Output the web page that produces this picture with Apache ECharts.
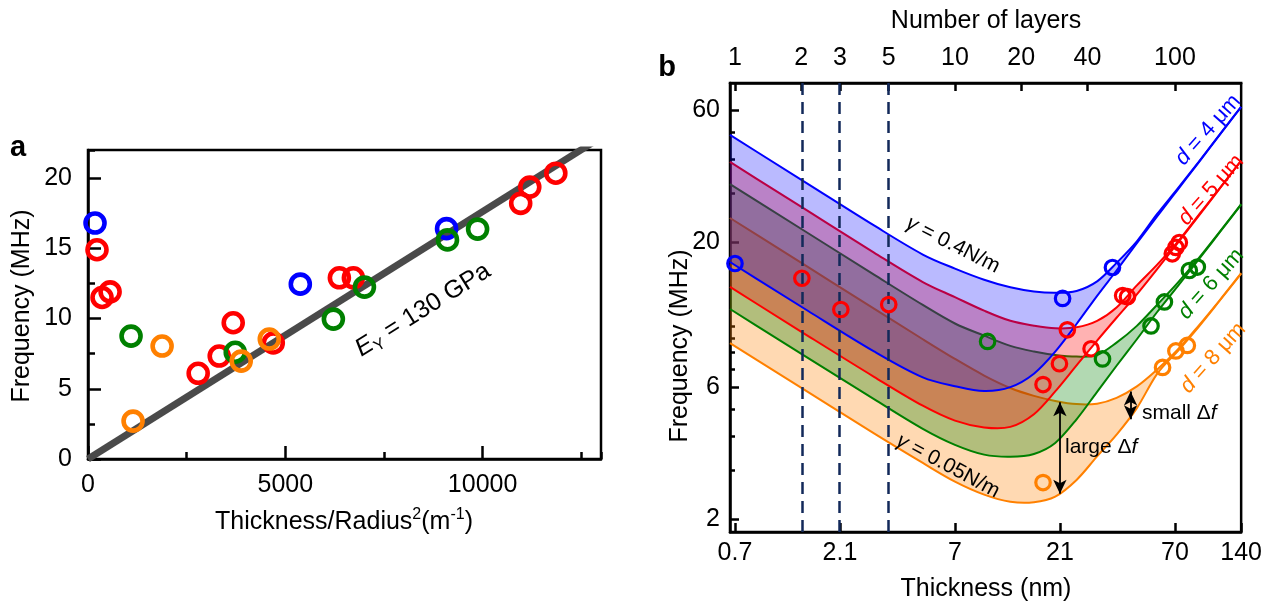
<!DOCTYPE html>
<html><head><meta charset="utf-8">
<script src="https://cdn.jsdelivr.net/npm/echarts@6/dist/echarts.min.js"></script>
<style>html,body{margin:0;padding:0;background:#fff;}#c{width:1265px;height:604px;}</style>
</head><body><div id="c"></div>
<script>
const FONT = '"Liberation Sans", Arial, Helvetica, sans-serif';

// ---------- Panel a data ----------
const aXMax = 13000, aXStep = 5000, aXMinorStep = 2500;
const aYMax = 22, aYStep = 5, aYMinorStep = 2.5;
const aBlue = [[178, 16.8], [5380, 12.45], [9086, 16.4]];
const aRed = [[228, 14.9], [356, 11.5], [560, 11.9], [2792, 6.1], [3325, 7.33], [3680, 9.7], [4695, 8.26], [6370, 12.9], [6725, 12.9], [10965, 18.2], [11195, 19.36], [11855, 20.35]];
const aGreen = [[1091, 8.75], [3731, 7.6], [6218, 9.96], [7005, 12.24], [9110, 15.6], [9873, 16.37]];
const aOrange = [[1142, 2.7], [1878, 8.04], [3883, 6.97], [4594, 8.54]];
const aFit = [[0, 0], [13000, 22.9]];

// ---------- Panel b data ----------
const layerThickness = 0.7; // nm per layer
const bXTicks = [0.7, 2.1, 7, 21, 70, 140];
const bLayerTicks = [1, 2, 3, 5, 10, 20, 40, 100];
const bYTicks = [2, 6, 20, 60];
const bYMinor = [3, 4, 5, 7, 8, 9, 10, 30, 40, 50];
const dashedLayers = [2, 3, 5];
const thickness = [0.6645, 1.5, 3, 5, 7, 9.5, 12.5, 16, 20, 25, 31, 38, 47, 58, 72, 90, 112, 140];
const f4High = [48.9, 32.56, 23.04, 18.1, 16.1, 14.68, 13.78, 13.31, 13.16, 13.37, 14.48, 16.88, 20.2, 25.3, 31.3, 39.2, 49.1, 61.8];
const f4Low  = [17.01, 11.34, 8.09, 6.52, 6.06, 5.82, 6.01, 6.72, 8.07, 10.16, 12.84, 15.85, 19.9, 24.8, 31.0, 39.0, 49.0, 61.7];
const f5High = [39.06, 26.0, 18.39, 14.4, 12.7, 11.35, 10.43, 10.02, 9.8, 9.88, 10.42, 11.65, 14.0, 16.6, 20.1, 25.2, 31.45, 39.5];
const f5Low  = [13.82, 9.21, 6.55, 5.15, 4.55, 4.3, 4.32, 4.8, 5.8, 7.2, 8.85, 10.7, 13.0, 16.0, 19.9, 25.0, 31.35, 39.5];
const f6High = [32.5, 21.64, 15.31, 11.9, 10.2, 9.22, 8.47, 8.08, 7.85, 7.75, 7.85, 8.7, 10.0, 11.9, 14.3, 17.6, 21.9, 27.5];
const f6Low  = [11.51, 7.66, 5.44, 4.25, 3.72, 3.43, 3.37, 3.45, 3.78, 4.6, 5.78, 7.18, 8.95, 11.2, 13.9, 17.4, 21.8, 27.4];
const f8High = [24.52, 16.32, 11.54, 8.95, 7.6, 6.62, 5.97, 5.59, 5.36, 5.22, 5.24, 5.5, 6.05, 6.95, 8.2, 10.05, 12.4, 15.5];
const f8Low  = [8.67, 5.78, 4.09, 3.2, 2.74, 2.46, 2.32, 2.31, 2.42, 2.78, 3.38, 4.05, 5.05, 6.7, 8.1, 9.95, 12.35, 15.45];
const bBlue = [[0.7, 16.8], [21.6, 12.56], [36.4, 16.25]];
const bRed = [[1.41, 14.86], [2.12, 11.46], [3.5, 11.94], [17.6, 6.14], [20.9, 7.3], [22.7, 9.68], [29.1, 8.27], [40.5, 12.87], [42.6, 12.75], [68.1, 18.2], [70.7, 19.2], [73.3, 20.0]];
const bGreen = [[9.85, 8.79], [32.8, 7.6], [54.5, 10.0], [62.7, 12.2], [81.4, 15.85], [88.5, 16.3]];
const bOrange = [[17.6, 2.72], [61.5, 7.08], [70.7, 8.12], [79.7, 8.5]];
const largeDf = [21, 5.3, 2.48];
const smallDf = [44, 5.8, 4.6];

const L = Math.log10;
const BLUE = '#0000ff', RED = '#ff0000', GREEN = '#008000', ORANGE = '#ff8000';

const chart = echarts.init(document.getElementById('c'), null, {renderer: 'canvas'});

const lbl = {fontSize: 25, color: '#000', fontFamily: FONT};
const tickLine = {color: '#000', width: 2.5};
function baseAxis(extra) {
  return Object.assign({
    type: 'value',
    splitLine: {show: false},
    axisLine: {show: true, onZero: false, lineStyle: {color: '#000', width: 2.5}},
  }, extra);
}
function hiddenAxis(extra, tick) {
  return Object.assign({
    type: 'value',
    splitLine: {show: false},
    axisLine: {show: false, onZero: false},
    axisLabel: {show: false},
    axisTick: Object.assign({show: true, inside: true, lineStyle: tickLine}, tick)
  }, extra);
}

const bXMin = L(0.6645), bXMax = L(140);
const bYMin = L(1.803), bYMax = L(75.3);

const xAxis = [
  // panel a: minor ticks first (drawn under the major ones)
  hiddenAxis({gridIndex: 0, min: 0, max: aXMax, interval: aXMinorStep, position: 'bottom'}, {length: 7}),
  baseAxis({gridIndex: 0, min: 0, max: aXMax, interval: aXStep, position: 'bottom',
    axisTick: {show: true, inside: true, length: 13, lineStyle: tickLine},
    axisLabel: Object.assign({margin: 14, showMaxLabel: false, formatter: v => String(v)}, lbl)}),
  // panel b bottom (thickness, log10 space)
  baseAxis({gridIndex: 1, min: bXMin, max: bXMax, position: 'bottom',
    axisTick: {show: true, inside: true, length: 9, customValues: bXTicks.map(L), lineStyle: tickLine},
    axisLabel: Object.assign({customValues: bXTicks.map(L), margin: 9,
      formatter: v => String(+Math.pow(10, v).toPrecision(3))}, lbl)}),
  // panel b top (number of layers)
  baseAxis({gridIndex: 1, min: bXMin, max: bXMax, position: 'top',
    axisTick: {show: true, inside: true, length: 8, customValues: bLayerTicks.map(n => L(n * layerThickness)), lineStyle: tickLine},
    axisLabel: Object.assign({customValues: bLayerTicks.map(n => L(n * layerThickness)), margin: 12,
      formatter: v => String(Math.round(Math.pow(10, v) / layerThickness))}, lbl)})
];
const yAxis = [
  hiddenAxis({gridIndex: 0, min: 0, max: aYMax, interval: aYMinorStep, position: 'left'}, {length: 7}),
  baseAxis({gridIndex: 0, min: 0, max: aYMax, interval: aYStep, position: 'left',
    axisTick: {show: true, inside: true, length: 13, lineStyle: tickLine},
    axisLabel: Object.assign({margin: 16, showMaxLabel: false}, lbl)}),
  baseAxis({gridIndex: 1, min: bYMin, max: bYMax, position: 'left',
    axisTick: {show: true, inside: true, length: 9, customValues: bYTicks.map(L), lineStyle: tickLine},
    axisLabel: Object.assign({customValues: bYTicks.map(L), margin: 10,
      formatter: v => String(Math.round(Math.pow(10, v)))}, lbl)}),
  hiddenAxis({gridIndex: 1, min: bYMin, max: bYMax, position: 'left'}, {length: 5, customValues: bYMinor.map(L)})
];

function hollow(name, data, color, xi, yi, size, bw, conv) {
  return {
    type: 'scatter', name, xAxisIndex: xi, yAxisIndex: yi,
    data: conv ? data.map(p => [L(p[0]), L(p[1])]) : data,
    symbol: 'circle', symbolSize: size, z: 5,
    itemStyle: {color: 'rgba(0,0,0,0)', borderColor: color, borderWidth: bw, opacity: 1}
  };
}

// smooth (cubic Hermite in x) path through pixel points - rendering only
function curveSeg(pts) {
  const n = pts.length, m = [];
  for (let i = 0; i < n; i++) {
    const a = pts[Math.max(0, i - 1)], b = pts[Math.min(n - 1, i + 1)];
    m.push((b[1] - a[1]) / (b[0] - a[0]));
  }
  let d = '';
  for (let i = 0; i < n - 1; i++) {
    const p = pts[i], q = pts[i + 1], dx = (q[0] - p[0]) / 3;
    d += ' C' + (p[0] + dx) + ' ' + (p[1] + m[i] * dx) + ' ' + (q[0] - dx) + ' ' + (q[1] - m[i + 1] * dx) + ' ' + q[0] + ' ' + q[1];
  }
  return d;
}

function band(key, hi, lo, color, fill) {
  return {
    type: 'custom', name: key, xAxisIndex: 2, yAxisIndex: 2, z: 2,
    data: [[L(thickness[0]), L(lo[0])]],
    encode: {x: 0, y: 1},
    renderItem: (params, api) => {
      const loP = thickness.map((t, i) => api.coord([L(t), L(lo[i])]));
      const hiP = thickness.map((t, i) => api.coord([L(t), L(hi[i])]));
      const hiR = hiP.slice().reverse();
      const loPath = 'M' + loP[0][0] + ' ' + loP[0][1] + curveSeg(loP);
      const hiPath = 'M' + hiP[0][0] + ' ' + hiP[0][1] + curveSeg(hiP);
      const fillPath = loPath + ' L' + hiR[0][0] + ' ' + hiR[0][1] + curveSeg(hiR) + ' Z';
      return {type: 'group', children: [
        {type: 'path', shape: {pathData: fillPath}, style: {fill: fill, stroke: null}},
        {type: 'path', shape: {pathData: loPath}, style: {fill: null, stroke: color, lineWidth: 2}},
        {type: 'path', shape: {pathData: hiPath}, style: {fill: null, stroke: color, lineWidth: 2}}
      ]};
    }
  };
}

const series = [
  // panel a
  {type: 'line', xAxisIndex: 1, yAxisIndex: 1, data: aFit, showSymbol: false, symbol: 'none',
   lineStyle: {color: '#4a4a4a', width: 7}, z: 3},
  hollow('aBlue', aBlue, BLUE, 1, 1, 19, 4.6, false),
  hollow('aRed', aRed, RED, 1, 1, 19, 4.6, false),
  hollow('aGreen', aGreen, GREEN, 1, 1, 19, 4.6, false),
  hollow('aOrange', aOrange, ORANGE, 1, 1, 19, 4.6, false),
  // panel b bands (drawn from d = 8 up to d = 4)
  band('d8', f8High, f8Low, ORANGE, 'rgba(255,128,0,0.3)'),
  band('d6', f6High, f6Low, GREEN, 'rgba(0,128,0,0.3)'),
  band('d5', f5High, f5Low, RED, 'rgba(255,0,0,0.3)'),
  band('d4', f4High, f4Low, BLUE, 'rgba(0,0,255,0.27)'),
  // dashed layer lines
  {type: 'line', xAxisIndex: 2, yAxisIndex: 2, data: [], z: 4,
   markLine: {silent: true, symbol: 'none', label: {show: false},
     lineStyle: {color: '#12295a', width: 2.5, type: [12, 7]},
     data: dashedLayers.map(n => ({xAxis: L(n * layerThickness)}))}},
  // delta f arrows
  {type: 'line', xAxisIndex: 2, yAxisIndex: 2, data: [], z: 4,
   markLine: {silent: true, symbol: ['arrow', 'arrow'], symbolSize: [10, 14], label: {show: false},
     lineStyle: {color: '#000', width: 1.8, type: 'solid'},
     data: [largeDf, smallDf].map(a => [{coord: [L(a[0]), L(a[1])]}, {coord: [L(a[0]), L(a[2])]}])}},
  hollow('bBlue', bBlue, BLUE, 2, 2, 14.5, 3.2, true),
  hollow('bRed', bRed, RED, 2, 2, 14.5, 3.2, true),
  hollow('bGreen', bGreen, GREEN, 2, 2, 14.5, 3.2, true),
  hollow('bOrange', bOrange, ORANGE, 2, 2, 14.5, 3.2, true)
];

function txt(x, y, text, opts) {
  return Object.assign({
    type: 'text', x, y, z: 100,
    style: Object.assign({text, fontFamily: FONT, fontSize: 25, fill: '#000', align: 'center', verticalAlign: 'middle'}, opts && opts.style)
  }, opts && opts.el);
}
const supRich = {
  n: {fontSize: 25, fontFamily: FONT, fill: '#000', lineHeight: 30},
  s: {fontSize: 16, fontFamily: FONT, fill: '#000', verticalAlign: 'top', lineHeight: 30},
  i: {fontSize: 25, fontFamily: FONT, fill: '#000', fontStyle: 'italic', lineHeight: 30},
  b: {fontSize: 16, fontFamily: FONT, fill: '#000', verticalAlign: 'bottom', lineHeight: 30}
};
function richTxt(x, y, text, rich, rot, size) {
  return {type: 'text', x, y, rotation: rot || 0, z: 100,
    style: {text, rich, fontFamily: FONT, fontSize: size || 25, align: 'center', verticalAlign: 'middle'}};
}
function dLabel(x, y, n, color) {
  const r = {i: {fontSize: 22, fontFamily: FONT, fill: color, fontStyle: 'italic'},
             n: {fontSize: 22, fontFamily: FONT, fill: color}};
  return richTxt(x, y, '{i|d}{n| = ' + n + ' μm}', r, 0.84, 22);
}
function gLabel(x, y, v, rot) {
  const r = {i: {fontSize: 21, fontFamily: FONT, fill: '#000', fontStyle: 'italic'},
             n: {fontSize: 21, fontFamily: FONT, fill: '#000'}};
  return richTxt(x, y, '{i|γ}{n| = ' + v + 'N/m}', r, rot, 21);
}
function dfLabel(x, y, word) {
  const r = {i: {fontSize: 21, fontFamily: FONT, fill: '#000', fontStyle: 'italic'},
             n: {fontSize: 21, fontFamily: FONT, fill: '#000'}};
  return {type: 'text', x, y, z: 100,
    style: {text: '{n|' + word + ' Δ}{i|f}', rich: r, fontSize: 21, align: 'left', verticalAlign: 'middle'}};
}

const graphic = [
  txt(18, 148, 'a', {style: {fontWeight: 'bold', fontSize: 29}}),
  txt(667, 68, 'b', {style: {fontWeight: 'bold', fontSize: 29}}),
  txt(22, 306, 'Frequency (MHz)', {el: {rotation: Math.PI / 2}}),
  richTxt(344, 522, '{n|Thickness/Radius}{s|2}{n|(m}{s|-1}{n|)}', supRich),
  richTxt(423, 310, '{i|E}{b|Y}{n| = 130 GPa}', supRich, 0.56),
  txt(680, 346, 'Frequency (MHz)', {el: {rotation: Math.PI / 2}}),
  txt(986, 589, 'Thickness (nm)'),
  txt(986, 21, 'Number of layers'),
  dLabel(1208, 130, 4, BLUE),
  dLabel(1211, 190, 5, RED),
  dLabel(1211, 284, 6, GREEN),
  dLabel(1213, 358, 8, ORANGE),
  gLabel(953, 245, '0.4', -0.47),
  gLabel(948, 466, '0.05', -0.49),
  dfLabel(1142, 413, 'small'),
  dfLabel(1065, 447, 'large')
];

chart.setOption({
  animation: false,
  backgroundColor: '#fff',
  grid: [
    {left: 88, top: 150, width: 513, height: 309, show: true, borderColor: '#000', borderWidth: 2.5, backgroundColor: 'rgba(0,0,0,0)'},
    {left: 730, top: 83, width: 512, height: 449, show: true, borderColor: '#000', borderWidth: 2.5, backgroundColor: 'rgba(0,0,0,0)'}
  ],
  xAxis, yAxis, series, graphic
});
</script></body></html>
